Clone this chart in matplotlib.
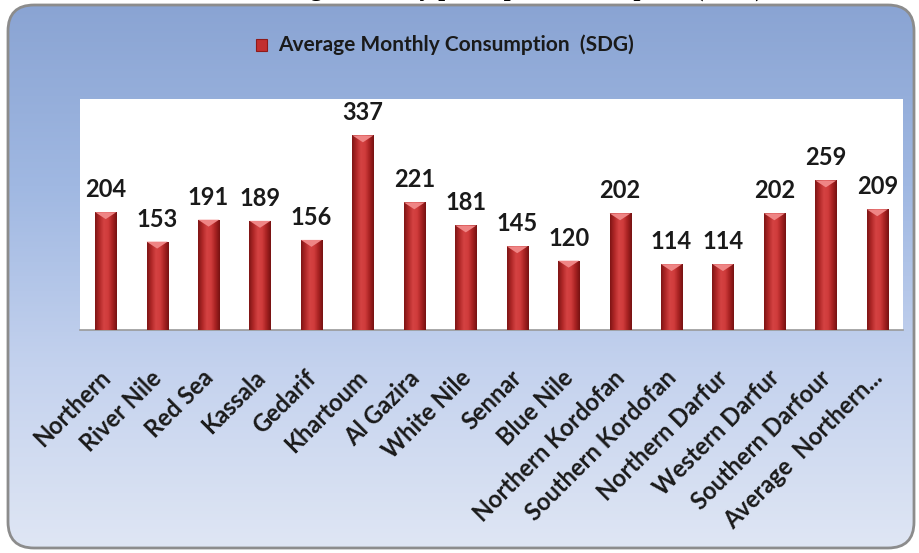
import numpy as np
import matplotlib
matplotlib.use('Agg')
import matplotlib.pyplot as plt
import matplotlib.transforms as mtransforms
from matplotlib.colors import LinearSegmentedColormap
from matplotlib.patches import FancyBboxPatch, Rectangle, Polygon

# ----------------------------------------------------------------------------
# DATA
# ----------------------------------------------------------------------------
states = ["Northern", "River Nile", "Red Sea", "Kassala", "Gedarif", "Khartoum",
          "Al Gazira", "White Nile", "Sennar", "Blue Nile", "Northern Kordofan",
          "Southern Kordofan", "Northern Darfur", "Western Darfur",
          "Southern Darfour", "Average  Northern..."]
consumption = [204, 153, 191, 189, 156, 337, 221, 181, 145, 120, 202, 114, 114, 202, 259, 209]

title = "Average Monthly per capita consumption (SDG)"
legend_label = "Average Monthly Consumption  (SDG)"

W, H = 920, 553
fig = plt.figure(figsize=(W / 100, H / 100), dpi=100)
fig.patch.set_facecolor("white")

# background panel (pixel coordinates)
bg = fig.add_axes([0, 0, 1, 1], zorder=-1)
bg.set_xlim(0, W)
bg.set_ylim(H, 0)
bg.axis("off")
panel = FancyBboxPatch((8, 5), 906, 543, boxstyle="round,pad=0,rounding_size=26",
                       facecolor="none", edgecolor="#8c8c8c", lw=2)
bg.add_patch(panel)
bg_cmap = LinearSegmentedColormap.from_list("bg", ["#8aa4d3", "#a0b8e2", "#c4d2ee", "#dfe6f4"])
grad_v = np.linspace(0, 1, 256).reshape(-1, 1)
im = bg.imshow(grad_v, cmap=bg_cmap, extent=(8, 914, 548, 5), aspect="auto", zorder=0)
im.set_clip_path(panel)
bg.set_xlim(0, W)
bg.set_ylim(H, 0)

# legend marker
bg.add_patch(Rectangle((256, 39), 11, 12, facecolor="#c22f2f", edgecolor="#8e1a1a", lw=0.8))

# ----------------------------------------------------------------------------
# BAR CHART
# ----------------------------------------------------------------------------
ax = fig.add_axes([80 / W, 1 - 330 / H, 823 / W, 231 / H], zorder=1)
ax.set_facecolor("white")
x = np.arange(len(states))
bars = ax.bar(x, consumption, width=0.41, color="#c0392b", edgecolor="none", zorder=3)

bar_cmap = LinearSegmentedColormap.from_list(
    "bar", ["#7f1515", "#b02828", "#d44242", "#d03c3c", "#a82222", "#761212"])
grad_h = np.linspace(0, 1, 64).reshape(1, -1)
for p in bars:
    x0, w, h = p.get_x(), p.get_width(), p.get_height()
    bim = ax.imshow(grad_h, cmap=bar_cmap, extent=(x0, x0 + w, 0, h), aspect="auto", zorder=3)
    bim.set_clip_path(p)
    ax.add_patch(Polygon([(x0, h), (x0 + w, h), (x0 + w / 2, h - 12)], closed=True,
                         facecolor="#ef8585", edgecolor="none", zorder=4))

ax.set_xlim(-0.5, len(states) - 0.5)
ax.set_ylim(0, 400)
ax.bar_label(bars, padding=8, fontsize=17, fontweight="bold", family="Lato", color="#1a1a1a")

ax.set_xticks(x)
ax.set_xticklabels(states, rotation=45, ha="right", rotation_mode="anchor",
                   fontsize=17, fontweight="bold", family="Lato", color="#1a1a1a")
ax.tick_params(axis="x", length=0, pad=26)
shift = mtransforms.ScaledTranslation(-5 / 72, 0, fig.dpi_scale_trans)
for lab in ax.get_xticklabels():
    lab.set_transform(lab.get_transform() + shift)
ax.set_yticks([])
for s in ["top", "left", "right"]:
    ax.spines[s].set_visible(False)
ax.spines["bottom"].set_color("#9a9a9a")
ax.spines["bottom"].set_linewidth(1.2)

# texts (title sits above the page edge, only its descenders show, as in the source)
fig.text(505 / W, 1 + 4 / H, title, ha="center", va="baseline", fontsize=18,
         fontweight="bold", family="Liberation Serif", color="black")
fig.text(278 / W, 1 - 45 / H, legend_label, ha="left", va="center", fontsize=15,
         fontweight="bold", family="Lato", color="#1a1a1a")

plt.savefig("out.png", dpi=100)
plt.close()
